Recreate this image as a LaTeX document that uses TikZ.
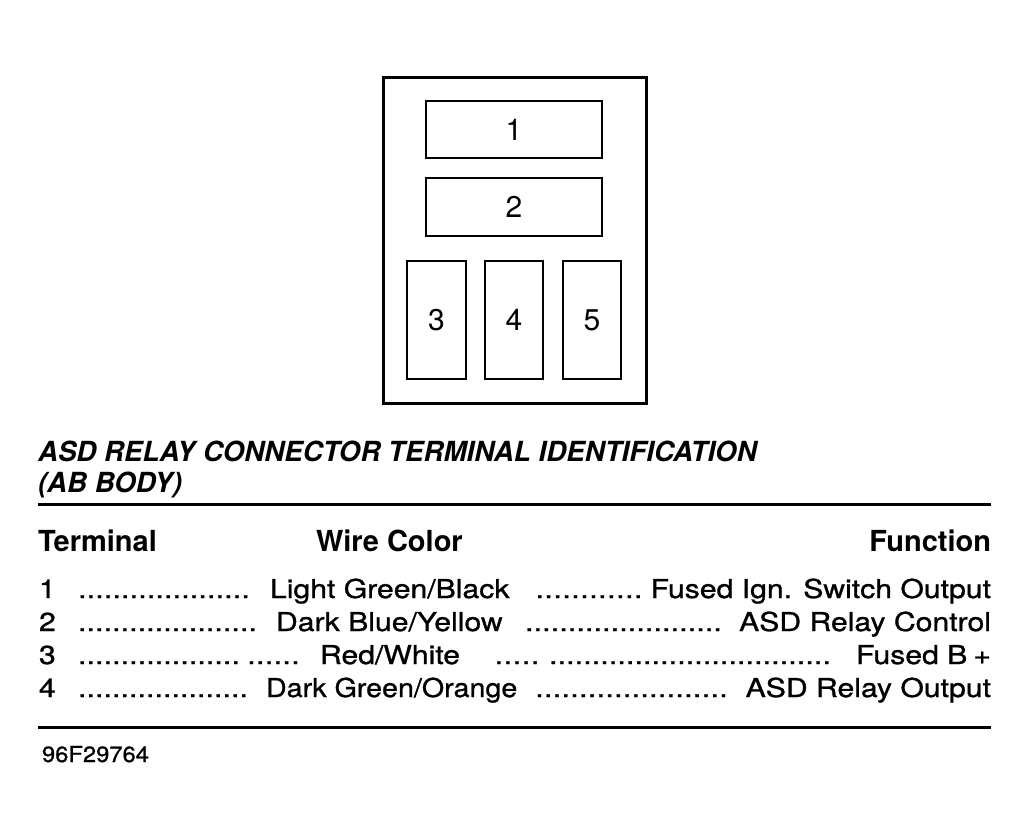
\documentclass[tikz,border=0pt]{standalone}
\usepackage{fontspec}
\usepackage{graphicx}
\setmainfont{TeX Gyre Heros}
\newfontfamily\rowfont[FakeStretch=1.16, FakeBold=1]{TeX Gyre Heros}
\newfontfamily\codefont[FakeStretch=1.08, FakeBold=1]{TeX Gyre Heros}
\newcommand\rowsize{\rowfont\fontsize{26}{30}\selectfont}
\newcommand\dotrun[1]{\hbox to #1pt{\xleaders\hbox to 8.5pt{\hss.\hss}\hfill}}

\begin{document}
\begin{tikzpicture}[x=1pt, y=-1pt,
  every node/.style={inner sep=0pt, outer sep=0pt},
  pin/.style={draw, line width=2pt, font=\fontsize{30}{32}\selectfont},
  row/.style={anchor=base west, font=\rowsize},
  rowend/.style={anchor=base east, font=\rowsize},
  head/.style={font=\fontsize{29}{32}\selectfont\bfseries}]

\useasboundingbox (0,0) rectangle (1029,839);

% connector
\node[draw, line width=3pt, minimum width=263pt, minimum height=326pt](body) at (514.5,240){};
\node[pin, minimum width=176pt, minimum height=57pt](p1) at (514,129.5){1};
\node[pin, minimum width=176pt, minimum height=58pt](p2) at (514,207){2};
\node[pin, minimum width=59pt, minimum height=118pt](p3) at (436.5,320){3};
\node[pin, minimum width=58pt, minimum height=118pt](p4) at (514,320){4};
\node[pin, minimum width=58pt, minimum height=118pt](p5) at (592,320){5};

% title
\node[anchor=base west, font=\fontsize{27.7}{30}\selectfont\bfseries\itshape](title) at (38,461){ASD RELAY CONNECTOR TERMINAL IDENTIFICATION};
\node[anchor=base west, font=\fontsize{27.7}{30}\selectfont\bfseries\itshape](subtitle) at (38,492){(AB BODY)};
\draw[line width=3pt](38,504)--(991,504);

% table
\node[head, anchor=base west](hterm) at (38,551){Terminal};
\node[head, anchor=base west](hwire) at (316,551){Wire Color};
\node[head, anchor=base east](hfunc) at (991,551){Function};

\node[row](n1) at (39,598){1};
\node[row](d1a) at (78,598){\dotrun{172}};
\node[row](w1) at (270,598){Light Green/Black};
\node[row](d1b) at (535,598){\dotrun{108}};
\node[rowend](f1) at (991,598){Fused Ign. Switch Output};

\node[row](n2) at (39,631){2};
\node[row](d2a) at (78,631){\dotrun{179}};
\node[row](w2) at (276,631){Dark Blue/Yellow};
\node[row](d2b) at (525,631){\dotrun{197}};
\node[rowend](f2) at (991,631){ASD Relay Control};

\node[row](n3) at (39,664){3};
\node[row](d3a) at (78,664){\dotrun{162}};
\node[row](d3b) at (247,664){\dotrun{53}};
\node[row](w3) at (320,664){Red/White};
\node[row](d3c) at (494,664){\dotrun{46}};
\node[row](d3d) at (549,664){\dotrun{282}};
\node[rowend](f3) at (991,664){Fused B\kern6pt+};

\node[row](n4) at (39,697){4};
\node[row](d4a) at (78,697){\dotrun{170}};
\node[row](w4) at (266,697){\scalebox{0.95}[1]{Dark Green/Orange}};
\node[row](d4b) at (535,697){\dotrun{193}};
\node[rowend](f4) at (991,697){ASD Relay Output};

\draw[line width=3pt](38,727)--(991,727);
\node[anchor=base west, font=\codefont\fontsize{22}{26}\selectfont](code) at (42,762){96F29764};

\end{tikzpicture}
\end{document}
